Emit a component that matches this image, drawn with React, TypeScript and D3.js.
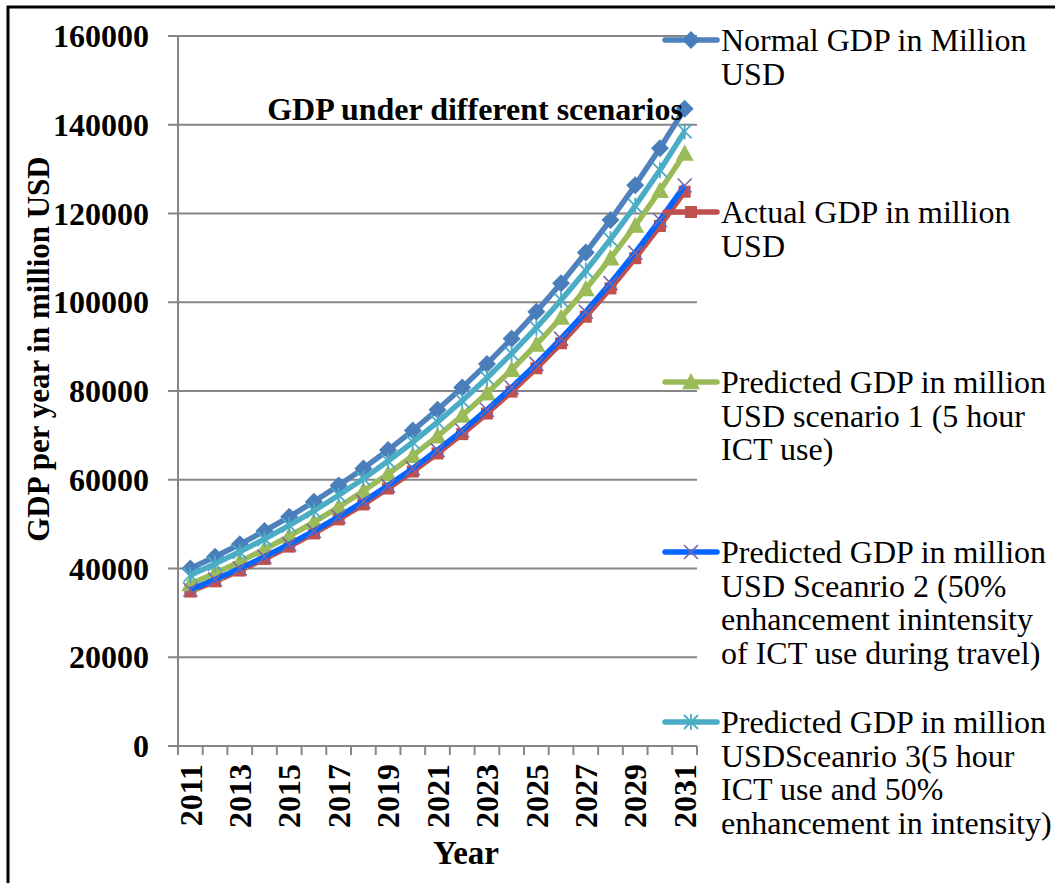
import React from "react";
import * as d3 from "d3";

const years = [2011, 2012, 2013, 2014, 2015, 2016, 2017, 2018, 2019, 2020, 2021, 2022, 2023, 2024, 2025, 2026, 2027, 2028, 2029, 2030, 2031];
const yTicks = [0, 20000, 40000, 60000, 80000, 100000, 120000, 140000, 160000];

const normalGdp = [40000, 42640, 45450, 48450, 51650, 55060, 58690, 62560, 66690, 71090, 75780, 80780, 86110, 91790, 97850, 104300, 111190, 118530, 126350, 134690, 143580];
const actualGdp = [34800, 37100, 39540, 42150, 44930, 47900, 51060, 54430, 58020, 61850, 65930, 70280, 74920, 79860, 85130, 90750, 96740, 103120, 109930, 117180, 124920];
const scenario1 = [36500, 38950, 41550, 44330, 47300, 50470, 53850, 57460, 61310, 65420, 69800, 74480, 79470, 84790, 90470, 96530, 103000, 109900, 117260, 125120, 133500];
const scenario2 = [35200, 37520, 40000, 42640, 45450, 48450, 51650, 55060, 58690, 62560, 66690, 71090, 75780, 80780, 86110, 91790, 97850, 104310, 111190, 118530, 126300];
const scenario3 = [38500, 41050, 43760, 46650, 49730, 53010, 56510, 60240, 64220, 68460, 72980, 77800, 82940, 88420, 94260, 100480, 107110, 114180, 121720, 129760, 138500];

const series = [
  { key: "normal", values: normalGdp, line: "#4F81BD", mark: "#4A7EBB", marker: "diamond", legend: ["Normal GDP in Million", "USD"] },
  { key: "actual", values: actualGdp, line: "#C0504D", mark: "#C0504D", marker: "square", legend: ["Actual GDP in million", "USD"] },
  { key: "s1", values: scenario1, line: "#9BBB59", mark: "#9BBB59", marker: "triangle", legend: ["Predicted GDP in million", "USD scenario 1 (5 hour", "ICT use)"] },
  { key: "s2", values: scenario2, line: "#0066FF", mark: "#8064A2", marker: "x", legend: ["Predicted GDP in million", "USD Sceanrio 2 (50%", "enhancement inintensity", "of ICT use during travel)"] },
  { key: "s3", values: scenario3, line: "#4BACC6", mark: "#4BACC6", marker: "star", legend: ["Predicted GDP in million", "USDSceanrio 3(5 hour", "ICT use and 50%", "enhancement in intensity)"] },
];

const legendY = [40, 212, 382, 552, 722];

const left = 178, right = 697, top = 36, bottom = 746;
const font = "'Liberation Serif', 'Times New Roman', serif";

function Marker({ type, x, y, color }) {
  if (type === "diamond") {
    const r = 9;
    return <path d={`M${x},${y - r}L${x + r},${y}L${x},${y + r}L${x - r},${y}Z`} fill={color} />;
  }
  if (type === "square") {
    return <rect x={x - 6} y={y - 6} width={12} height={12} fill={color} />;
  }
  if (type === "triangle") {
    const r = 9;
    return <path d={`M${x},${y - r}L${x + r},${y + r * 0.8}L${x - r},${y + r * 0.8}Z`} fill={color} />;
  }
  if (type === "x") {
    const r = 7;
    return <path d={`M${x - r},${y - r}L${x + r},${y + r}M${x - r},${y + r}L${x + r},${y - r}`} stroke={color} strokeWidth={1.6} />;
  }
  const r = 7;
  return (
    <path
      d={`M${x - r},${y - r}L${x + r},${y + r}M${x - r},${y + r}L${x + r},${y - r}M${x},${y - r - 1}L${x},${y + r + 1}`}
      stroke={color}
      strokeWidth={1.8}
    />
  );
}

export default function App() {
  const x = d3.scaleBand().domain(years.map(String)).range([left, right]);
  const y = d3.scaleLinear().domain([0, 160000]).range([bottom, top]);
  const line = d3
    .line<number>()
    .x((_, i) => x(String(years[i])) + x.bandwidth() / 2)
    .y((d) => y(d));

  const tickXs = years.map((yr) => x(String(yr))).concat([right]);

  return (
    <svg width={1055} height={883} style={{ position: "absolute", left: 0, top: 0, background: "#fff" }} fontFamily={font}>
      <rect x={8} y={7} width={1100} height={900} fill="#fff" stroke="#000" strokeWidth={3} />

      {/* gridlines */}
      {yTicks.map((t) => (
        <line key={t} x1={168} x2={right} y1={y(t)} y2={y(t)} stroke="#868686" strokeWidth={2} />
      ))}
      <line x1={left} x2={left} y1={top} y2={bottom} stroke="#868686" strokeWidth={2} />
      {tickXs.map((tx, i) => (
        <line key={i} x1={tx} x2={tx} y1={bottom} y2={bottom + 9} stroke="#868686" strokeWidth={2} />
      ))}

      {yTicks.map((t) => (
        <text key={t} x={149} y={y(t)} dy="0.35em" textAnchor="end" fontSize={32} fontWeight="bold">
          {t}
        </text>
      ))}
      {years.filter((yr, i) => i % 2 === 0).map((yr) => (
        <text
          key={yr}
          transform={`translate(${x(String(yr)) + x.bandwidth() / 2},${bottom + 18}) rotate(-90)`}
          dy="0.35em"
          textAnchor="end"
          fontSize={32}
          fontWeight="bold"
        >
          {yr}
        </text>
      ))}

      <text x={466} y={864} textAnchor="middle" fontSize={33} fontWeight="bold">Year</text>
      <text transform={`translate(49,349) rotate(-90)`} textAnchor="middle" fontSize={31} fontWeight="bold">
        GDP per year in million USD
      </text>

      {series.map((s) => (
        <g key={s.key}>
          <path d={line(s.values)} fill="none" stroke={s.line} strokeWidth={5.5} strokeLinejoin="round" />
          {s.values.map((v, i) => (
            <Marker key={i} type={s.marker} x={x(String(years[i])) + x.bandwidth() / 2} y={y(v)} color={s.mark} />
          ))}
        </g>
      ))}

      <text x={475} y={120} textAnchor="middle" fontSize={32} fontWeight="bold">GDP under different scenarios</text>

      {series.map((s, k) => (
        <g key={s.key}>
          <line x1={665} x2={717} y1={legendY[k]} y2={legendY[k]} stroke={s.line} strokeWidth={5.5} strokeLinecap="round" />
          <Marker type={s.marker} x={691} y={legendY[k]} color={s.mark} />
          {s.legend.map((t, j) => (
            <text key={j} x={721} y={legendY[k] + j * 33.5} dy="0.35em" fontSize={32}>
              {t}
            </text>
          ))}
        </g>
      ))}
    </svg>
  );
}
